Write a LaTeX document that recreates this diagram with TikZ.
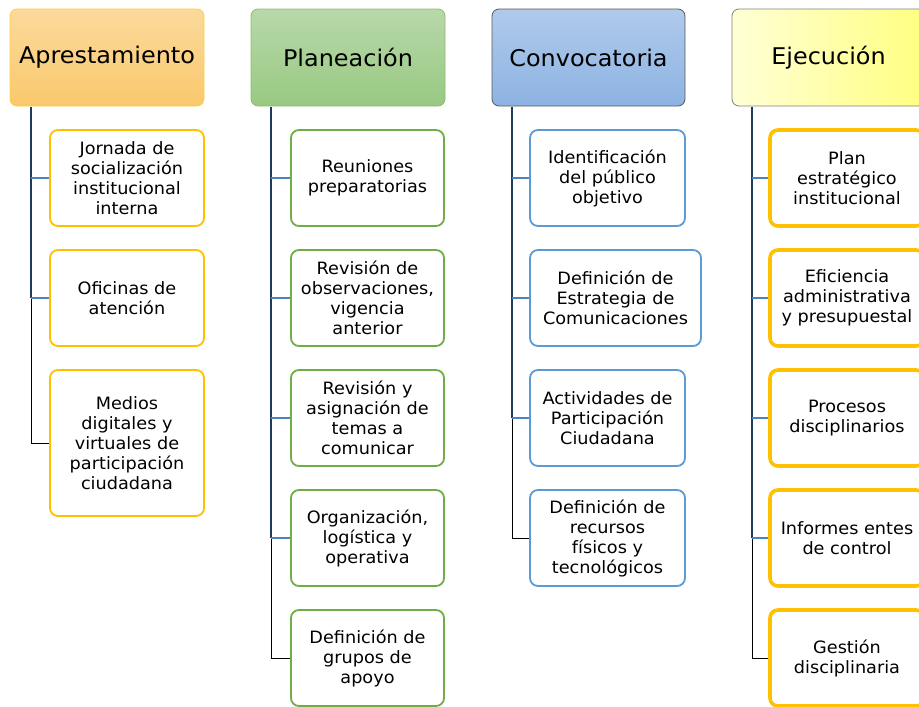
\documentclass[tikz,border=0pt]{standalone}
\usepackage{fontspec}
\setmainfont{DejaVu Sans}[FakeStretch=1.04]

\definecolor{aprtop}{HTML}{FCDA9C}
\definecolor{aprbot}{HTML}{F9C86C}
\definecolor{aprline}{HTML}{FFC000}
\definecolor{plntop}{HTML}{B8D8AA}
\definecolor{plnbot}{HTML}{98C982}
\definecolor{plnline}{HTML}{70AD47}
\definecolor{cnvtop}{HTML}{B0CAEB}
\definecolor{cnvbot}{HTML}{8CB3E2}
\definecolor{cnvline}{HTML}{5B9BD5}
\definecolor{ejeleft}{HTML}{FFFFD6}
\definecolor{ejeright}{HTML}{FFFF80}
\definecolor{trunkcol}{HTML}{1F3A5F}
\definecolor{twigcol}{HTML}{4F81BD}

\tikzset{
  hdr/.style={draw, rounded corners=7pt, minimum width=194pt, minimum height=97pt,
    font=\fontsize{23}{27}\selectfont, line width=0.8pt},
  item/.style={draw, fill=white, rounded corners=8pt, minimum width=154pt,
    minimum height=96pt, align=center, inner sep=1pt, font=\fontsize{17}{20}\selectfont, line width=1.8pt},
  trunk/.style={draw=trunkcol, line width=1.5pt},
  twig/.style={draw=twigcol, line width=1.6pt},
  lasttwig/.style={draw=black, line width=0.9pt}
}

\begin{document}
\begin{tikzpicture}[x=1pt, y=-1pt]
        \useasboundingbox (0,0) rectangle (919,707);
        \clip (0,0) rectangle (919,707);

        % Aprestamiento
        \node[hdr, draw=aprline!75, top color=aprtop, bottom color=aprbot] (apr) at (107,57.5) {Aprestamiento};
        \node[item, draw=aprline] (apr1) at (127,178) {Jornada de\\socialización\\institucional\\interna};
        \node[item, draw=aprline] (apr2) at (127,298) {Oficinas de\\atención};
        \node[item, draw=aprline, minimum height=146pt] (apr3) at (127,443) {Medios\\digitales y\\virtuales de\\participación\\ciudadana};

        % Planeacion
        \node[hdr, draw=plnline!80, top color=plntop, bottom color=plnbot] (pln) at (348,57.5) {Planeación};
        \node[item, draw=plnline, minimum width=153pt] (pln1) at (367.5,178) {Reuniones\\preparatorias};
        \node[item, draw=plnline, minimum width=153pt] (pln2) at (367.5,298) {Revisión de\\observaciones,\\vigencia\\anterior};
        \node[item, draw=plnline, minimum width=153pt] (pln3) at (367.5,418) {Revisión y\\asignación de\\temas a\\comunicar};
        \node[item, draw=plnline, minimum width=153pt] (pln4) at (367.5,538) {Organización,\\logística y\\operativa};
        \node[item, draw=plnline, minimum width=153pt] (pln5) at (367.5,658) {Definición de\\grupos de\\apoyo};

        % Convocatoria
        \node[hdr, draw=black!65, top color=cnvtop, bottom color=cnvbot, minimum width=193pt] (cnv) at (588.5,57.5) {Convocatoria};
        \node[item, draw=cnvline, minimum width=155pt] (cnv1) at (607.5,178) {Identificación\\del público\\objetivo};
        \node[item, draw=cnvline, minimum width=171pt] (cnv2) at (615.5,298) {Definición de\\Estrategia de\\Comunicaciones};
        \node[item, draw=cnvline, minimum width=155pt] (cnv3) at (607.5,418) {Actividades de\\Participación\\Ciudadana};
        \node[item, draw=cnvline, minimum width=155pt] (cnv4) at (607.5,538) {Definición de\\recursos\\físicos y\\tecnológicos};

        % Ejecucion
        \node[hdr, draw=black!50, left color=ejeleft, right color=ejeright, minimum width=193pt] (eje) at (828.5,57.5) {Ejecución};
        \node[item, draw=aprline, line width=3.6pt] (eje1) at (847,178) {Plan\\estratégico\\institucional};
        \node[item, draw=aprline, line width=3.6pt] (eje2) at (847,298) {Eficiencia\\administrativa\\y presupuestal};
        \node[item, draw=aprline, line width=3.6pt] (eje3) at (847,418) {Procesos\\disciplinarios};
        \node[item, draw=aprline, line width=3.6pt] (eje4) at (847,538) {Informes entes\\de control};
        \node[item, draw=aprline, line width=3.6pt] (eje5) at (847,658) {Gestión\\disciplinaria};

        % Connectors
        \coordinate (aprT) at (31,106.5);
        \coordinate (plnT) at (271,106.5);
        \coordinate (cnvT) at (512,106.5);
        \coordinate (ejeT) at (752,106.5);

        \draw[lasttwig] (aprT |- apr2.west) |- (apr3.west);
        \draw[trunk] (aprT) -- (aprT |- apr2.west);
        \draw[twig] (aprT |- apr1.west) -- (apr1.west);
        \draw[twig] (aprT |- apr2.west) -- (apr2.west);

        \draw[lasttwig] (plnT |- pln4.west) |- (pln5.west);
        \draw[trunk] (plnT) -- (plnT |- pln4.west);
        \draw[twig] (plnT |- pln1.west) -- (pln1.west);
        \draw[twig] (plnT |- pln2.west) -- (pln2.west);
        \draw[twig] (plnT |- pln3.west) -- (pln3.west);
        \draw[twig] (plnT |- pln4.west) -- (pln4.west);

        \draw[lasttwig] (cnvT |- cnv3.west) |- (cnv4.west);
        \draw[trunk] (cnvT) -- (cnvT |- cnv3.west);
        \draw[twig] (cnvT |- cnv1.west) -- (cnv1.west);
        \draw[twig] (cnvT |- cnv2.west) -- (cnv2.west);
        \draw[twig] (cnvT |- cnv3.west) -- (cnv3.west);

        \draw[lasttwig] (ejeT |- eje4.west) |- (eje5.west);
        \draw[trunk] (ejeT) -- (ejeT |- eje4.west);
        \draw[twig] (ejeT |- eje1.west) -- (eje1.west);
        \draw[twig] (ejeT |- eje2.west) -- (eje2.west);
        \draw[twig] (ejeT |- eje3.west) -- (eje3.west);
        \draw[twig] (ejeT |- eje4.west) -- (eje4.west);
\end{tikzpicture}
\end{document}
